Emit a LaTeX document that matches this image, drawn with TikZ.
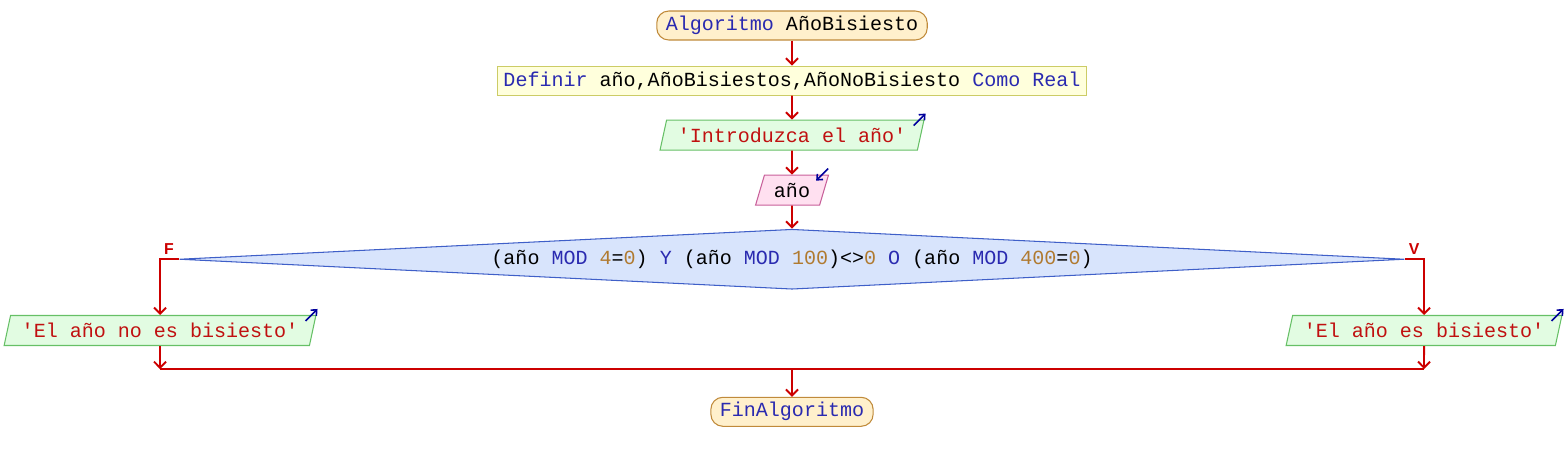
\documentclass[tikz,border=0pt]{standalone}
\usepackage{fontspec}
\usepackage{tikz}
\usetikzlibrary{shapes.geometric, arrows.meta, positioning, calc}
\usepackage{xcolor}
\newfontfamily\psmono{Liberation Mono}
\newfontfamily\pssans{Liberation Sans}
\definecolor{flowred}{HTML}{CC0000}
\definecolor{kwblue}{HTML}{2A2AB0}
\definecolor{numbrown}{HTML}{B07A30}
\definecolor{strred}{HTML}{C01010}
\definecolor{termfill}{HTML}{FFF0CC}
\definecolor{termedge}{HTML}{C08A3A}
\definecolor{deffill}{HTML}{FFFFDC}
\definecolor{defedge}{HTML}{CCCC66}
\definecolor{outfill}{HTML}{E2FCE2}
\definecolor{outedge}{HTML}{66C066}
\definecolor{infill}{HTML}{FFE0F0}
\definecolor{inedge}{HTML}{C8609A}
\definecolor{condfill}{HTML}{D8E4FC}
\definecolor{condedge}{HTML}{3F5FC8}
\definecolor{ioblue}{HTML}{00009C}
\newcommand{\psfont}{\psmono\fontsize{11.4}{13}\selectfont}
\newcommand{\kw}[1]{\textcolor{kwblue}{#1}}
\newcommand{\nm}[1]{\textcolor{numbrown}{#1}}
\tikzset{
  termbox/.style={rectangle, draw=termedge, fill=termfill, line width=0.6pt,
                  rounded corners=0.24cm, minimum height=0.58cm, inner xsep=0.18cm,
                  inner ysep=0pt, font=\psfont},
  defbox/.style={rectangle, draw=defedge, fill=deffill, line width=0.6pt,
                 minimum height=0.58cm, inner xsep=0.12cm, inner ysep=0pt, font=\psfont},
  outbox/.style={trapezium, trapezium left angle=68, trapezium right angle=112,
                 trapezium stretches=true, draw=outedge, fill=outfill, line width=0.6pt,
                 minimum height=0.6cm, inner sep=0pt, font=\psfont, text=strred},
  inbox/.style={trapezium, trapezium left angle=68, trapezium right angle=112,
                trapezium stretches=true, draw=inedge, fill=infill, line width=0.6pt,
                minimum height=0.6cm, inner sep=0pt, font=\psfont},
  condbox/.style={diamond, aspect=20, draw=condedge, fill=condfill, line width=0.6pt,
                  minimum width=24.5cm, minimum height=1.2cm, inner sep=0pt, font=\psfont},
  flow/.style={-{Straight Barb[length=1.2mm,width=2.4mm]}, line width=1.1pt, draw=flowred},
  flowline/.style={line width=1.1pt, draw=flowred},
  iomark/.style={-{Straight Barb[length=0.9mm,width=1.6mm]}, line width=0.9pt, draw=ioblue},
  branchlab/.style={font=\pssans\fontsize{9}{10}\selectfont\bfseries, text=flowred, inner sep=0pt},
}

\begin{document}
\begin{tikzpicture}
  \useasboundingbox (0,0) rectangle (31.32,-9.2);

  \node[termbox] (start) at (15.84,-0.51) {\kw{Algoritmo} AñoBisiesto};
  \node[defbox, below=0.5cm of start] (define)
       {\kw{Definir} año,AñoBisiestos,AñoNoBisiesto \kw{Como Real}};
  \node[outbox, minimum width=5.28cm, below=0.48cm of define] (askyear) {'Introduzca el año'};
  \node[inbox, minimum width=1.46cm, below=0.48cm of askyear] (readyear) {año};
  \node[condbox, below=0.46cm of readyear] (cond)
       {(año \kw{MOD} \nm{4}=\nm{0}) \kw{Y} (año \kw{MOD} \nm{100})<>\nm{0} \kw{O} (año \kw{MOD} \nm{400}=\nm{0})};
  \node[outbox, minimum width=6.24cm] (notleap) at (3.2,-6.61) {'El año no es bisiesto'};
  \node[outbox, minimum width=5.52cm] (leap) at (28.48,-6.61) {'El año es bisiesto'};
  \node[termbox, below=2.14cm of cond] (finish) {\kw{FinAlgoritmo}};
  \coordinate (merge) at (15.84,-7.38);

  % branch labels
  \node[branchlab] (lblF) at ([shift={(-0.2,0.21)}]cond.west) {F};
  \node[branchlab] (lblV) at ([shift={(0.18,0.21)}]cond.east) {V};

  % io marks
  \draw[iomark] ([shift={(-0.22,-0.12)}]askyear.top right corner) -- ++(0.24,0.24);
  \draw[iomark] ([shift={(-0.02,0.12)}]readyear.top right corner) -- ++(-0.24,-0.24);
  \draw[iomark] ([shift={(-0.22,-0.12)}]notleap.top right corner) -- ++(0.24,0.24);
  \draw[iomark] ([shift={(-0.22,-0.12)}]leap.top right corner) -- ++(0.24,0.24);

  \draw[flow] (start) -- (define);
  \draw[flow] (define) -- (askyear);
  \draw[flow] (askyear) -- (readyear);
  \draw[flow] (readyear) -- (cond);
  \draw[flow] (cond.west) -| (notleap);
  \draw[flow] (cond.east) -| (leap);
  \draw[flow] (notleap) -- (notleap |- merge);
  \draw[flow] (leap) -- (leap |- merge);
  \draw[flowline] (notleap |- merge) -- (leap |- merge);
  \draw[flow] (merge) -- (finish);
\end{tikzpicture}
\end{document}
